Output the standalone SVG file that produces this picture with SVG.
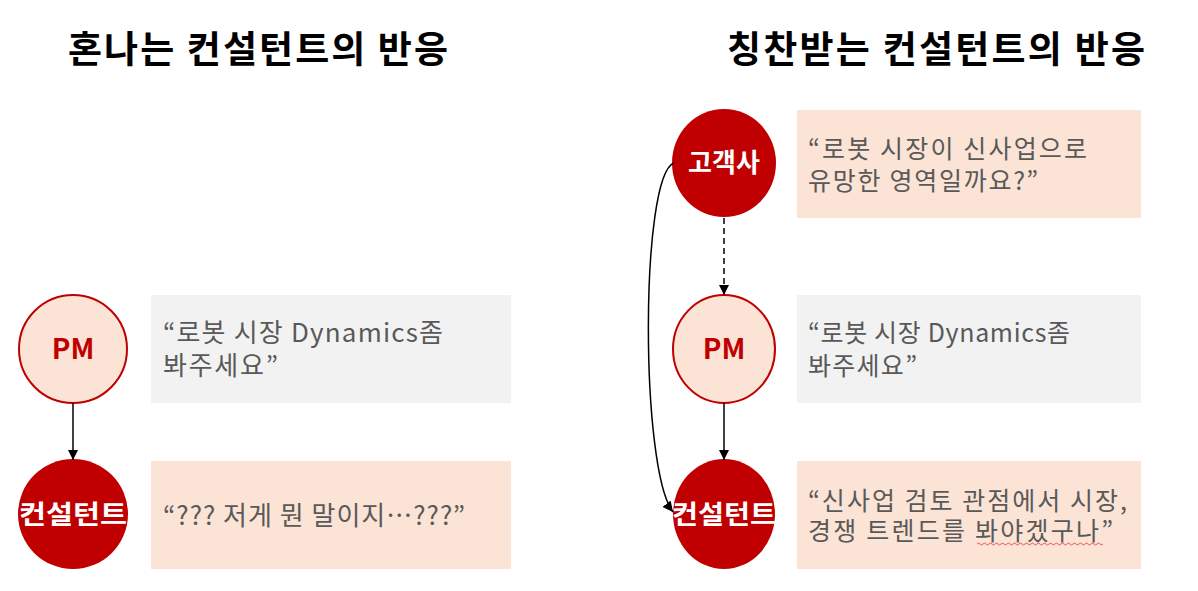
<svg xmlns="http://www.w3.org/2000/svg" width="1198" height="591" viewBox="0 0 1198 591">
<defs>
<style>
.title{font-family:"Noto Sans CJK KR","Liberation Sans",sans-serif;font-weight:bold;font-size:37px;fill:#000}
.quote{font-family:"Noto Sans CJK KR","Liberation Sans",sans-serif;font-size:26px;fill:#595959}
.quoter{font-family:"Noto Sans CJK KR","Liberation Sans",sans-serif;font-size:25px;fill:#595959}
.lblw{font-family:"Noto Sans CJK KR","Liberation Sans",sans-serif;font-weight:bold;font-size:26px;fill:#fff}
.lblr{font-family:"Noto Sans CJK KR","Liberation Sans",sans-serif;font-weight:bold;font-size:28px;fill:#C00000}
.light{fill:#FBE3D6;stroke:#C00000;stroke-width:2}
.dark{fill:#C00000}
.gray{fill:#F2F2F2}
.peach{fill:#FBE3D6}
.conn{fill:none;stroke:#000;stroke-width:1.5}
</style>
<marker id="ah" viewBox="0 0 10 10" refX="10" refY="5" markerWidth="7" markerHeight="7" orient="auto">
<path d="M0,0 L10,5 L0,10 z" fill="#000"/>
</marker>
</defs>
<rect width="1198" height="591" fill="#fff"/>
<text class="title" x="68" y="63" textLength="380" lengthAdjust="spacing">혼나는 컨설턴트의 반응</text>
<text class="title" x="727" y="63" textLength="418" lengthAdjust="spacing">칭찬받는 컨설턴트의 반응</text>

<g id="left-pm-box"><rect class="gray" x="151" y="295" width="360" height="108"/>
<text class="quote"><tspan x="163" y="342" textLength="280" lengthAdjust="spacing">“로봇 시장 Dynamics좀</tspan><tspan x="163" y="375" textLength="115" lengthAdjust="spacing">봐주세요”</tspan></text></g>
<g id="left-con-box"><rect class="peach" x="151" y="461" width="360" height="108"/>
<text class="quote" x="163" y="525" textLength="302" lengthAdjust="spacing">“??? 저게 뭔 말이지…???”</text></g>
<g id="left-pm"><ellipse class="light" cx="73" cy="349" rx="54" ry="54"/>
<text class="lblr" x="73" y="359" text-anchor="middle">PM</text></g>
<g id="left-con"><ellipse class="dark" cx="73" cy="514" rx="55" ry="55"/>
<text class="lblw" x="73" y="524" text-anchor="middle" textLength="108" lengthAdjust="spacingAndGlyphs">컨설턴트</text></g>

<g id="right-client-box"><rect class="peach" x="797" y="110" width="344" height="108"/>
<text class="quoter"><tspan x="808" y="158" textLength="279" lengthAdjust="spacing">“로봇 시장이 신사업으로</tspan><tspan x="808" y="190" textLength="230" lengthAdjust="spacing">유망한 영역일까요?”</tspan></text></g>
<g id="right-pm-box"><rect class="gray" x="797" y="295" width="344" height="108"/>
<text class="quoter"><tspan x="808" y="342" textLength="262" lengthAdjust="spacing">“로봇 시장 Dynamics좀</tspan><tspan x="808" y="375" textLength="109" lengthAdjust="spacing">봐주세요”</tspan></text></g>
<g id="right-con-box"><rect class="peach" x="797" y="461" width="344" height="108"/>
<text class="quoter"><tspan x="808" y="510" textLength="319" lengthAdjust="spacing">“신사업 검토 관점에서 시장,</tspan><tspan x="808" y="540" textLength="305" lengthAdjust="spacing">경쟁 트렌드를 봐야겠구나”</tspan></text>
<path d="M977,544 q1.5,-2 3,0 t3,0 t3,0 t3,0 t3,0 t3,0 t3,0 t3,0 t3,0 t3,0 t3,0 t3,0 t3,0 t3,0 t3,0 t3,0 t3,0 t3,0 t3,0 t3,0 t3,0 t3,0 t3,0 t3,0 t3,0 t3,0 t3,0 t3,0 t3,0 t3,0 t3,0 t3,0 t3,0 t3,0 t3,0 t3,0 t3,0 t3,0 t3,0 t3,0 t3,0 t3,0" fill="none" stroke="#E03030" stroke-width="0.8"/></g>
<g id="right-client"><ellipse class="dark" cx="724" cy="163" rx="52" ry="54"/>
<text class="lblw" x="724" y="172" text-anchor="middle">고객사</text></g>
<g id="right-pm"><ellipse class="light" cx="724" cy="349" rx="51" ry="54"/>
<text class="lblr" x="724" y="359" text-anchor="middle">PM</text></g>
<g id="right-con"><ellipse class="dark" cx="724" cy="514" rx="51" ry="55"/>
<text class="lblw" x="724" y="524" text-anchor="middle" textLength="104" lengthAdjust="spacingAndGlyphs">컨설턴트</text></g>

<g id="connectors">
<line class="conn" x1="73" y1="403" x2="73" y2="460" marker-end="url(#ah)"/>
<line class="conn" x1="724" y1="218" x2="724" y2="295" stroke-dasharray="6,4" marker-end="url(#ah)"/>
<line class="conn" x1="724" y1="403" x2="724" y2="460" marker-end="url(#ah)"/>
<path class="conn" d="M674,163 C640,175 640,470 673,512" marker-end="url(#ah)"/>
</g>
</svg>
